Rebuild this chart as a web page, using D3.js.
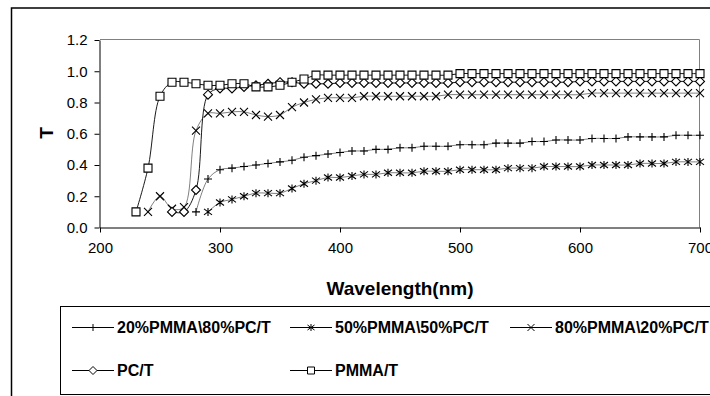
<!DOCTYPE html>
<html>
<head>
<meta charset="utf-8">
<script src="https://cdn.jsdelivr.net/npm/d3@7"></script>
<style>
body { margin: 0; background: #fff; }
svg { display: block; font-family: Arial, "Liberation Sans", sans-serif; }
.tick text { font-size: 15px; fill: #000; }
.axisTitle { font-size: 19px; font-weight: bold; }
.legendText { font-size: 16px; font-weight: bold; }
</style>
</head>
<body>
<script>
(function(){

//wavelength (nm) for every reading
var wavelengths = [230, 240, 250, 260, 270, 280, 290, 300, 310, 320, 330, 340, 350, 360, 370, 380,
    390, 400, 410, 420, 430, 440, 450, 460, 470, 480, 490, 500, 510, 520, 530, 540,
    550, 560, 570, 580, 590, 600, 610, 620, 630, 640, 650, 660, 670, 680, 690, 700];

//transmittance per series, null where the series has no reading
var pmma20pc80 = [null, null, null, null, null, 0.10, 0.31, 0.37, 0.38, 0.39, 0.40, 0.41, 0.42, 0.43, 0.45, 0.46,
    0.47, 0.48, 0.49, 0.49, 0.50, 0.50, 0.51, 0.51, 0.52, 0.52, 0.52, 0.53, 0.53, 0.53, 0.54, 0.54,
    0.54, 0.55, 0.55, 0.56, 0.56, 0.56, 0.57, 0.57, 0.57, 0.58, 0.58, 0.58, 0.58, 0.59, 0.59, 0.59];
var pmma50pc50 = [null, null, null, null, null, null, 0.10, 0.16, 0.18, 0.20, 0.22, 0.22, 0.22, 0.25, 0.28, 0.30,
    0.32, 0.32, 0.33, 0.34, 0.34, 0.35, 0.35, 0.35, 0.36, 0.36, 0.36, 0.37, 0.37, 0.37, 0.37, 0.38,
    0.38, 0.38, 0.39, 0.39, 0.39, 0.39, 0.40, 0.40, 0.40, 0.40, 0.41, 0.41, 0.41, 0.42, 0.42, 0.42];
var pmma80pc20 = [null, 0.10, 0.20, 0.12, 0.13, 0.62, 0.73, 0.73, 0.74, 0.74, 0.72, 0.71, 0.72, 0.77, 0.80, 0.82,
    0.83, 0.83, 0.83, 0.84, 0.84, 0.84, 0.84, 0.84, 0.84, 0.84, 0.85, 0.85, 0.85, 0.85, 0.85, 0.85,
    0.85, 0.85, 0.85, 0.85, 0.85, 0.85, 0.86, 0.86, 0.86, 0.86, 0.86, 0.86, 0.86, 0.86, 0.86, 0.86];
var pcT = [null, null, null, 0.10, 0.10, 0.24, 0.85, 0.89, 0.89, 0.90, 0.91, 0.92, 0.93, 0.93, 0.92, 0.92,
    0.92, 0.925, 0.925, 0.925, 0.925, 0.925, 0.925, 0.925, 0.925, 0.925, 0.925, 0.93, 0.93, 0.93, 0.93, 0.93,
    0.93, 0.93, 0.93, 0.93, 0.93, 0.935, 0.935, 0.935, 0.935, 0.935, 0.935, 0.935, 0.935, 0.935, 0.935, 0.935];
var pmmaT = [0.10, 0.38, 0.84, 0.93, 0.93, 0.92, 0.91, 0.91, 0.92, 0.92, 0.90, 0.90, 0.91, 0.93, 0.95, 0.975,
    0.975, 0.975, 0.975, 0.975, 0.975, 0.975, 0.975, 0.975, 0.975, 0.975, 0.975, 0.985, 0.985, 0.985, 0.985, 0.985,
    0.985, 0.985, 0.985, 0.985, 0.985, 0.985, 0.985, 0.985, 0.985, 0.985, 0.985, 0.985, 0.985, 0.985, 0.985, 0.985];

var seriesNames = ["20%PMMA\\80%PC/T", "50%PMMA\\50%PC/T", "80%PMMA\\20%PC/T", "PC/T", "PMMA/T"];
var seriesMarkers = ["plus", "star", "cross", "diamond", "square"];
var seriesValues = [pmma20pc80, pmma50pc50, pmma80pc20, pcT, pmmaT];

var xTicks = [200, 300, 400, 500, 600, 700];
var yTicks = [0, 0.2, 0.4, 0.6, 0.8, 1.0, 1.2];

//frame dimensions
var width = 710,
    height = 396,
    plotLeft = 100,
    plotRight = 700,
    plotTop = 40,
    plotBottom = 227.5;

var xScale = d3.scaleLinear()
    .domain([200, 700])
    .range([plotLeft, plotRight]);

var yScale = d3.scaleLinear()
    .domain([0, 1.2])
    .range([plotBottom, plotTop]);

var svg = d3.select("body")
    .append("svg")
    .attr("width", width)
    .attr("height", height);

//outer chart frame (cut off on the right and bottom)
svg.append("rect")
    .attr("x", 11.5)
    .attr("y", 8)
    .attr("width", 720)
    .attr("height", 400)
    .attr("fill", "#fff")
    .attr("stroke", "#000")
    .attr("stroke-width", 1.5);

//plot area border, top and right in grey
svg.append("path")
    .attr("d", "M" + plotLeft + "," + (plotTop - 0.5) + "H" + (plotRight - 0.5) + "V" + plotBottom)
    .attr("fill", "none")
    .attr("stroke", "#808080")
    .attr("stroke-width", 1);

//axes
var yAxis = svg.append("g")
    .attr("transform", "translate(" + (plotLeft - 0.5) + ",0)")
    .call(d3.axisLeft(yScale)
        .tickValues(yTicks)
        .tickFormat(d3.format(".1f"))
        .tickSize(5)
        .tickSizeOuter(0)
        .tickPadding(7));

var xAxis = svg.append("g")
    .attr("transform", "translate(0," + plotBottom + ")")
    .call(d3.axisBottom(xScale)
        .tickValues(xTicks)
        .tickFormat(d3.format("d"))
        .tickSize(5)
        .tickSizeOuter(0)
        .tickPadding(10));

svg.selectAll(".domain, .tick line").attr("stroke", "#000");
svg.selectAll(".tick text").attr("font-family", null).attr("font-size", null);

//axis titles
svg.append("text")
    .attr("class", "axisTitle")
    .attr("text-anchor", "middle")
    .attr("transform", "translate(53,133) rotate(-90)")
    .text("T");

svg.append("text")
    .attr("class", "axisTitle")
    .attr("text-anchor", "middle")
    .attr("x", 400)
    .attr("y", 295)
    .text("Wavelength(nm)");

//marker shapes, centred on 0,0
function markerPath(type, s){
    if (type == "square") return "M" + -s + "," + -s + "H" + s + "V" + s + "H" + -s + "Z";
    if (type == "diamond") return "M0," + (-s - 0.5) + "L" + (s + 0.5) + ",0L0," + (s + 0.5) + "L" + (-s - 0.5) + ",0Z";
    if (type == "plus") return "M" + -s + ",0H" + s + "M0," + -s + "V" + s;
    if (type == "cross") return "M" + -s + "," + -s + "L" + s + "," + s + "M" + s + "," + -s + "L" + -s + "," + s;
    //star: cross plus a vertical stroke
    return "M" + -s + "," + (-s + 1) + "L" + s + "," + (s - 1) + "M" + s + "," + (-s + 1) + "L" + -s + "," + (s - 1) + "M0," + -s + "V" + s;
}

var line = d3.line()
    .defined(function(d){ return d.value != null; })
    .x(function(d){ return xScale(d.wl); })
    .y(function(d){ return yScale(d.value); })
    .curve(d3.curveCatmullRom);

seriesValues.forEach(function(values, i){
    var points = wavelengths.map(function(wl, j){
        return { wl: wl, value: values[j] };
    });
    var filled = seriesMarkers[i] == "square" || seriesMarkers[i] == "diamond";

    svg.append("path")
        .datum(points)
        .attr("class", "series")
        .attr("fill", "none")
        .attr("stroke", "#000")
        .attr("stroke-width", filled ? 0.9 : 0.5)
        .attr("d", line);

    svg.selectAll(".marker" + i)
        .data(points.filter(function(d){ return d.value != null; }))
        .enter()
        .append("path")
        .attr("class", "marker" + i)
        .attr("transform", function(d){
            return "translate(" + xScale(d.wl) + "," + yScale(d.value) + ")";
        })
        .attr("d", markerPath(seriesMarkers[i], 4))
        .attr("fill", "#fff")
        .attr("fill-opacity", filled ? 1 : 0)
        .attr("stroke", "#000")
        .attr("stroke-width", 1.1);
});

//legend box
svg.append("rect")
    .attr("x", 60.5)
    .attr("y", 306.5)
    .attr("width", 700)
    .attr("height", 88)
    .attr("fill", "#fff")
    .attr("stroke", "#000")
    .attr("stroke-width", 1);

var legendX = [72, 290, 510, 72, 290],
    legendY = [327, 327, 327, 370, 370];

var legend = svg.selectAll(".legendItem")
    .data(seriesNames)
    .enter()
    .append("g")
    .attr("class", "legendItem")
    .attr("transform", function(d, i){
        return "translate(" + legendX[i] + "," + legendY[i] + ")";
    });

legend.append("line")
    .attr("x1", 0)
    .attr("x2", 42)
    .attr("y1", 0.5)
    .attr("y2", 0.5)
    .attr("stroke", "#000")
    .attr("stroke-width", 1);

legend.append("path")
    .attr("transform", "translate(21,0.5)")
    .attr("d", function(d, i){ return markerPath(seriesMarkers[i], 3.5); })
    .attr("fill", "#fff")
    .attr("stroke", "#000")
    .attr("stroke-width", 1);

legend.append("text")
    .attr("class", "legendText")
    .attr("x", 45)
    .attr("y", 6)
    .text(function(d){ return d; });

})();
</script>
</body>
</html>
